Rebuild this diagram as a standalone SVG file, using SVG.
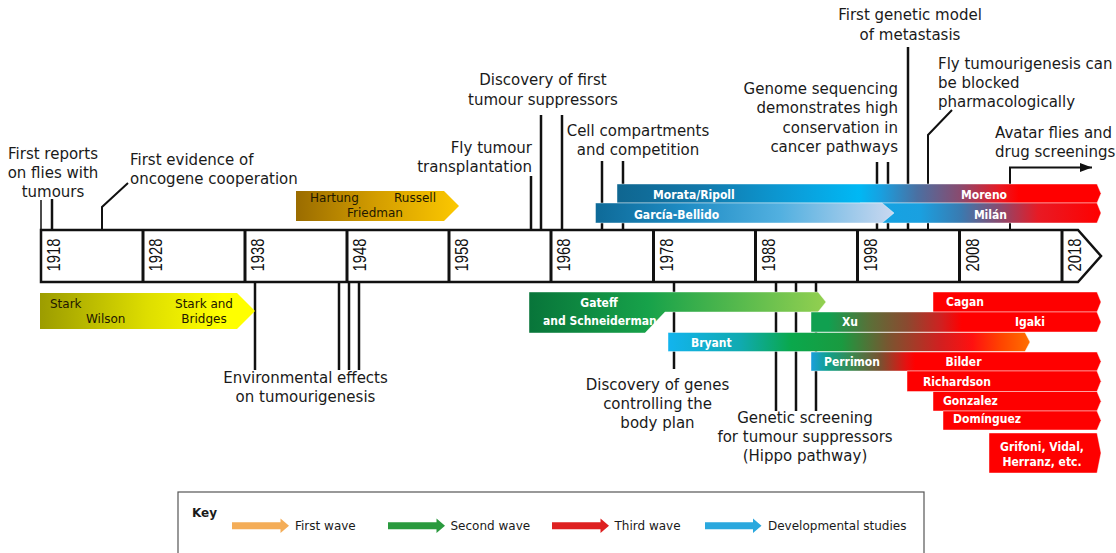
<svg xmlns="http://www.w3.org/2000/svg" width="1116" height="553" viewBox="0 0 1116 553">
<style>
.lbl{font-family:"DejaVu Sans","Noto Sans",sans-serif;font-size:15px;fill:#1a1a1a}
.yr{font-family:"Liberation Sans",Arial,sans-serif;font-size:17.5px;fill:#111}
.bw{font-family:"DejaVu Sans Condensed","DejaVu Sans",sans-serif;font-stretch:condensed;font-weight:bold;font-size:12px;fill:#fff}
.bd{font-family:"DejaVu Sans","Noto Sans",sans-serif;font-size:12px;fill:#221800}
.key{font-family:"DejaVu Sans","Noto Sans",sans-serif;font-size:12px;fill:#1a1a1a}
.ln{stroke:#111;stroke-width:2.5;fill:none}
.ln2{stroke:#111;stroke-width:2;fill:none}
.bar{stroke:#fff;stroke-opacity:.55;stroke-width:.8}
.red{fill:#fe0000}
</style>
<defs>
<linearGradient id="gHart" gradientUnits="userSpaceOnUse" x1="296" y1="0" x2="459" y2="0"><stop offset="0" stop-color="#9a6c00"/><stop offset="0.5" stop-color="#d49e00"/><stop offset="1" stop-color="#fcc800"/></linearGradient>
<linearGradient id="gStark" gradientUnits="userSpaceOnUse" x1="40" y1="0" x2="255" y2="0"><stop offset="0" stop-color="#9c9c00"/><stop offset="0.5" stop-color="#dede00"/><stop offset="0.85" stop-color="#ffff00"/><stop offset="1" stop-color="#ffff00"/></linearGradient>
<linearGradient id="gMorata" gradientUnits="userSpaceOnUse" x1="617" y1="0" x2="1101" y2="0"><stop offset="0" stop-color="#0f6690"/><stop offset="0.17" stop-color="#1278aa"/><stop offset="0.38" stop-color="#0aa0dc"/><stop offset="0.5" stop-color="#00b8f4"/><stop offset="0.545" stop-color="#18a0e0"/><stop offset="0.62" stop-color="#4a70a2"/><stop offset="0.71" stop-color="#8a4a6e"/><stop offset="0.79" stop-color="#e81a24"/><stop offset="0.83" stop-color="#ff0000"/><stop offset="1" stop-color="#ff0000"/></linearGradient>
<linearGradient id="gGarcia" gradientUnits="userSpaceOnUse" x1="595" y1="0" x2="894" y2="0"><stop offset="0" stop-color="#0e6a98"/><stop offset="0.3" stop-color="#1e8cc4"/><stop offset="0.62" stop-color="#52b0e0"/><stop offset="1" stop-color="#cad8f0"/></linearGradient>
<linearGradient id="gMilan" gradientUnits="userSpaceOnUse" x1="860" y1="0" x2="1101" y2="0"><stop offset="0" stop-color="#12a4e4"/><stop offset="0.25" stop-color="#1aa0e0"/><stop offset="0.42" stop-color="#3a7ab0"/><stop offset="0.58" stop-color="#8a4a6e"/><stop offset="0.74" stop-color="#e81a24"/><stop offset="1" stop-color="#ff0000"/></linearGradient>
<linearGradient id="gGateff" gradientUnits="userSpaceOnUse" x1="529" y1="0" x2="826" y2="0"><stop offset="0" stop-color="#08753a"/><stop offset="0.4" stop-color="#17a24a"/><stop offset="1" stop-color="#93d050"/></linearGradient>
<linearGradient id="gXu" gradientUnits="userSpaceOnUse" x1="811" y1="0" x2="1101" y2="0"><stop offset="0" stop-color="#10a050"/><stop offset="0.06" stop-color="#10a050"/><stop offset="0.2" stop-color="#5a7038"/><stop offset="0.33" stop-color="#8a4a30"/><stop offset="0.45" stop-color="#d02020"/><stop offset="0.52" stop-color="#ff0000"/><stop offset="1" stop-color="#ff0000"/></linearGradient>
<linearGradient id="gBryant" gradientUnits="userSpaceOnUse" x1="668" y1="0" x2="1030" y2="0"><stop offset="0" stop-color="#12b4ee"/><stop offset="0.2" stop-color="#10aab0"/><stop offset="0.34" stop-color="#0aa84c"/><stop offset="0.48" stop-color="#1a9a40"/><stop offset="0.61" stop-color="#7a5530"/><stop offset="0.75" stop-color="#d02020"/><stop offset="0.84" stop-color="#ff1010"/><stop offset="0.92" stop-color="#ff4400"/><stop offset="1" stop-color="#ff7000"/></linearGradient>
<linearGradient id="gPerr" gradientUnits="userSpaceOnUse" x1="811" y1="0" x2="1101" y2="0"><stop offset="0" stop-color="#1a9fdc"/><stop offset="0.06" stop-color="#10a08a"/><stop offset="0.14" stop-color="#3a8a50"/><stop offset="0.24" stop-color="#7a5030"/><stop offset="0.33" stop-color="#e81010"/><stop offset="0.36" stop-color="#ff0000"/><stop offset="1" stop-color="#ff0000"/></linearGradient>
<marker id="ah" markerUnits="userSpaceOnUse" markerWidth="13" markerHeight="10" refX="12" refY="4.5" orient="auto"><path d="M0,0 L12,4.5 L0,9 Z" fill="#111"/></marker>
</defs>

<g id="connectors">
<line class="ln" x1="52" y1="199" x2="52" y2="230" stroke-width="3"/>
<line x1="41" y1="200" x2="41" y2="230" stroke="#111" stroke-width="1.5"/>
<polyline class="ln2" points="128,183 102,207 102,230"/>
<line class="ln" x1="531" y1="176" x2="531" y2="230"/>
<line class="ln" x1="541" y1="115" x2="541" y2="230"/>
<line class="ln" x1="562" y1="115" x2="562" y2="230"/>
<line class="ln" x1="602" y1="161" x2="602" y2="230"/>
<line class="ln" x1="623" y1="161" x2="623" y2="230"/>
<line class="ln" x1="877" y1="162" x2="877" y2="230"/>
<line class="ln" x1="888" y1="162" x2="888" y2="230"/>
<line class="ln" x1="908" y1="47" x2="908" y2="230"/>
<polyline class="ln2" points="952,110 928,135 928,230"/>
<path class="ln2" d="M1010,230 V167.5 H1092" marker-end="url(#ah)"/>
<line class="ln" x1="255" y1="282" x2="255" y2="370"/>
<line class="ln" x1="339" y1="282" x2="339" y2="370"/>
<line class="ln" x1="349" y1="282" x2="349" y2="370"/>
<line class="ln" x1="359" y1="282" x2="359" y2="370"/>
<line class="ln" x1="674" y1="282" x2="674" y2="369"/>
<line class="ln" x1="776" y1="282" x2="776" y2="411"/>
<line class="ln" x1="796" y1="282" x2="796" y2="411"/>
<line class="ln" x1="816" y1="282" x2="816" y2="411"/>
</g>

<g id="timeline">
<path d="M41,230 H1078 L1101,256 L1078,282 H41 Z" fill="#fff" stroke="#111" stroke-width="2.5"/>
<g stroke="#111" stroke-width="3">
<line x1="143" y1="230" x2="143" y2="282"/>
<line x1="245" y1="230" x2="245" y2="282"/>
<line x1="347" y1="230" x2="347" y2="282"/>
<line x1="449" y1="230" x2="449" y2="282"/>
<line x1="551" y1="230" x2="551" y2="282"/>
<line x1="653.5" y1="230" x2="653.5" y2="282"/>
<line x1="755.5" y1="230" x2="755.5" y2="282"/>
<line x1="857.5" y1="230" x2="857.5" y2="282"/>
<line x1="959.5" y1="230" x2="959.5" y2="282"/>
<line x1="1062" y1="230" x2="1062" y2="282"/>
</g>
<g class="yr" text-anchor="middle">
<text transform="translate(60,255) rotate(-90)" textLength="33" lengthAdjust="spacingAndGlyphs">1918</text>
<text transform="translate(162,255) rotate(-90)" textLength="33" lengthAdjust="spacingAndGlyphs">1928</text>
<text transform="translate(264,255) rotate(-90)" textLength="33" lengthAdjust="spacingAndGlyphs">1938</text>
<text transform="translate(366,255) rotate(-90)" textLength="33" lengthAdjust="spacingAndGlyphs">1948</text>
<text transform="translate(468,255) rotate(-90)" textLength="33" lengthAdjust="spacingAndGlyphs">1958</text>
<text transform="translate(570,255) rotate(-90)" textLength="33" lengthAdjust="spacingAndGlyphs">1968</text>
<text transform="translate(672.5,255) rotate(-90)" textLength="33" lengthAdjust="spacingAndGlyphs">1978</text>
<text transform="translate(774.5,255) rotate(-90)" textLength="33" lengthAdjust="spacingAndGlyphs">1988</text>
<text transform="translate(876.5,255) rotate(-90)" textLength="33" lengthAdjust="spacingAndGlyphs">1998</text>
<text transform="translate(978.5,255) rotate(-90)" textLength="33" lengthAdjust="spacingAndGlyphs">2008</text>
<text transform="translate(1081,255) rotate(-90)" textLength="33" lengthAdjust="spacingAndGlyphs">2018</text>
</g>
</g>

<g id="n-first-reports" class="lbl" text-anchor="middle"><text x="53" y="159">First reports</text><text x="53" y="178">on flies with</text><text x="53" y="197">tumours</text></g>
<g id="n-oncogene" class="lbl"><text x="130" y="165">First evidence of</text><text x="130" y="184">oncogene cooperation</text></g>
<g id="n-transplant" class="lbl" text-anchor="end"><text x="532" y="153">Fly tumour</text><text x="532" y="172">transplantation</text></g>
<g id="n-suppressors" class="lbl" text-anchor="middle"><text x="543" y="85">Discovery of first</text><text x="543" y="104.5">tumour suppressors</text></g>
<g id="n-compartments" class="lbl" text-anchor="middle"><text x="638" y="136">Cell compartments</text><text x="638" y="155">and competition</text></g>
<g id="n-genome" class="lbl" text-anchor="end"><text x="898" y="94">Genome sequencing</text><text x="898" y="113.3">demonstrates high</text><text x="898" y="132.6">conservation in</text><text x="898" y="152">cancer pathways</text></g>
<g id="n-metastasis" class="lbl" text-anchor="middle"><text x="910" y="20">First genetic model</text><text x="910" y="39.5">of metastasis</text></g>
<g id="n-pharma" class="lbl"><text x="938" y="69">Fly tumourigenesis can</text><text x="938" y="87.7">be blocked</text><text x="938" y="106.5">pharmacologically</text></g>
<g id="n-avatar" class="lbl"><text x="995" y="138">Avatar flies and</text><text x="995" y="157">drug screenings</text></g>
<g id="n-environment" class="lbl" text-anchor="middle"><text x="305.5" y="382.5">Environmental effects</text><text x="305.5" y="402">on tumourigenesis</text></g>
<g id="n-bodyplan" class="lbl" text-anchor="middle"><text x="657.5" y="389.5">Discovery of genes</text><text x="657.5" y="408.5">controlling the</text><text x="657.5" y="427.5">body plan</text></g>
<g id="n-hippo" class="lbl" text-anchor="middle"><text x="805" y="423">Genetic screening</text><text x="805" y="442">for tumour suppressors</text><text x="805" y="461">(Hippo pathway)</text></g>

<g id="n-hartung">
<polygon points="296,191 444,191 459,206 444,221 296,221" fill="url(#gHart)"/>
<text class="bd" x="310" y="202">Hartung</text><text class="bd" x="394" y="202">Russell</text><text class="bd" x="347" y="217">Friedman</text>
</g>
<g id="n-morata">
<polygon class="bar" points="617,184 1097,184 1101,193.5 1097,203 617,203" fill="url(#gMorata)"/>
<text class="bw" x="653" y="199">Morata/Ripoll</text>
<text class="bw" x="1007" y="199" text-anchor="end">Moreno</text>
</g>
<g id="n-milan">
<polygon class="bar" points="860,203 1097,203 1101,213 1097,223 860,223" fill="url(#gMilan)"/>
<text class="bw" x="1007" y="218.5" text-anchor="end">Milán</text>
</g>
<g id="n-garcia">
<polygon class="bar" points="595.5,203 882,203 894,213 882,223 595.5,223" fill="url(#gGarcia)"/>
<text class="bw" x="634" y="218.5">García-Bellido</text>
</g>

<g id="n-stark">
<polygon points="40,293 237,293 255,311 237,329 40,329" fill="url(#gStark)"/>
<text class="bd" x="50" y="308">Stark</text><text class="bd" x="86" y="323">Wilson</text>
<text class="bd" x="204" y="308" text-anchor="middle">Stark and</text><text class="bd" x="204" y="322.5" text-anchor="middle">Bridges</text>
</g>
<g id="n-gateff">
<polygon class="bar" points="529,292 818,292 826,302 818,312 665,312 645,333 529,333" fill="url(#gGateff)"/>
<text class="bw" x="599" y="307" text-anchor="middle">Gateff</text>
<text class="bw" x="543" y="324.5" font-size="11.3">and Schneiderman</text>
</g>
<g id="n-cagan">
<polygon class="bar red" points="933,292 1097,292 1101,302 1097,312 933,312"/>
<text class="bw" x="946" y="305.5">Cagan</text>
</g>
<g id="n-xu">
<polygon class="bar" points="811,312 1097,312 1101,322 1097,332 811,332" fill="url(#gXu)"/>
<text class="bw" x="842" y="325.5">Xu</text>
<text class="bw" x="1015" y="325.5">Igaki</text>
</g>
<g id="n-bryant">
<polygon class="bar" points="668,332.5 1025,332.5 1030,342 1025,351.5 668,351.5" fill="url(#gBryant)"/>
<text class="bw" x="691" y="346.5">Bryant</text>
</g>
<g id="n-perrimon">
<polygon class="bar" points="811,352 1097,352 1101,361.5 1097,371 811,371" fill="url(#gPerr)"/>
<text class="bw" x="824" y="365.5">Perrimon</text>
<text class="bw" x="945.5" y="365.5">Bilder</text>
</g>
<g id="n-richardson">
<polygon class="bar red" points="907,371 1097,371 1101,381.2 1097,391.5 907,391.5"/>
<text class="bw" x="923" y="386">Richardson</text>
</g>
<g id="n-gonzalez">
<polygon class="bar red" points="933,391.5 1097,391.5 1101,401.2 1097,411 933,411"/>
<text class="bw" x="943" y="405">Gonzalez</text>
</g>
<g id="n-dominguez">
<polygon class="bar red" points="943,411 1097,411 1101,420.5 1097,430 943,430"/>
<text class="bw" x="953" y="423">Domínguez</text>
</g>
<g id="n-grifoni">
<polygon class="bar red" points="989,433 1097,433 1101,453 1097,473 989,473"/>
<text class="bw" x="1042" y="451" text-anchor="middle">Grifoni, Vidal,</text>
<text class="bw" x="1042" y="466" text-anchor="middle">Herranz, etc.</text>
</g>

<g id="key">
<rect x="178" y="492" width="746" height="70" fill="#fff" stroke="#555" stroke-width="1.2"/>
<text class="key" x="192" y="517" font-weight="bold">Key</text>
<polygon points="232,522.3 280.5,522.3 280.5,518.5 289,525.7 280.5,533 280.5,529.2 232,529.2" fill="#f4ad58"/>
<text class="key" x="295" y="529.5">First wave</text>
<polygon points="388,522.3 436.5,522.3 436.5,518.5 445,525.7 436.5,533 436.5,529.2 388,529.2" fill="#2a9a3e"/>
<text class="key" x="450.5" y="529.5">Second wave</text>
<polygon points="552,522.3 600.5,522.3 600.5,518.5 609,525.7 600.5,533 600.5,529.2 552,529.2" fill="#de2020"/>
<text class="key" x="614.5" y="529.5">Third wave</text>
<polygon points="705,522.3 753,522.3 753,518.5 761.5,525.7 753,533 753,529.2 705,529.2" fill="#2aa8de"/>
<text class="key" x="768" y="529.5">Developmental studies</text>
</g>
</svg>
